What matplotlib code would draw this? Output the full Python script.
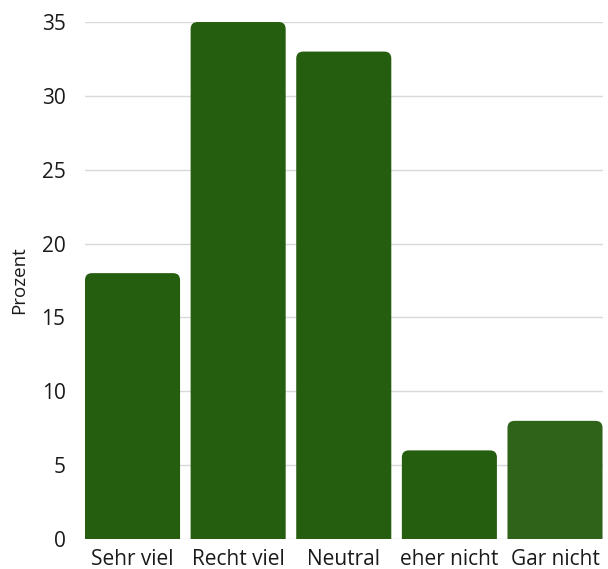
import matplotlib.pyplot as plt
from matplotlib.patches import FancyBboxPatch

plt.rcParams['font.family'] = ['Open Sans', 'DejaVu Sans']

kategorien = ["Sehr viel", "Recht viel", "Neutral", "eher nicht", "Gar nicht"]
prozent = [18, 35, 33, 6, 8]
farben = ["#265e0f", "#265e0f", "#265e0f", "#265e0f", "#2f631a"]

fig = plt.figure(figsize=(6.08, 5.69), dpi=100)
ax = fig.add_axes([0.1398, 0.0527, 0.8512, 0.9086])

bars = ax.bar(range(len(kategorien)), prozent, width=0.9, color=farben, zorder=2)

# top corners rounded: replace each rectangle by a rounded box extending below zero
px_x = 0.8512 * 608 / 4.9
px_y = 0.9086 * 569 / 35
r = 7 / px_x
for b in bars:
    x, w, h = b.get_x(), b.get_width(), b.get_height()
    patch = FancyBboxPatch((x, -1), w, h + 1,
                           boxstyle=f"round,pad=0,rounding_size={r}",
                           mutation_aspect=px_x / px_y,
                           facecolor=b.get_facecolor(), edgecolor="none",
                           zorder=2, clip_on=True)
    b.set_visible(False)
    ax.add_patch(patch)

ax.set_xlim(-0.45, 4.45)
ax.set_ylim(0, 35)
ax.set_yticks(range(0, 36, 5))
ax.set_xticks(range(len(kategorien)))
ax.set_xticklabels(kategorien)
ax.yaxis.grid(True, color="#d9d9d9", linewidth=1, zorder=0)
ax.set_axisbelow(True)
for s in ax.spines.values():
    s.set_visible(False)
ax.tick_params(axis="both", length=0, labelsize=15, colors="#1a1a1a")
ax.tick_params(axis="y", pad=14)
ax.tick_params(axis="x", pad=7)
ax.set_ylabel("Prozent", fontsize=13.5, color="#1a1a1a", labelpad=10)

fig.savefig("out.png", dpi=100)
